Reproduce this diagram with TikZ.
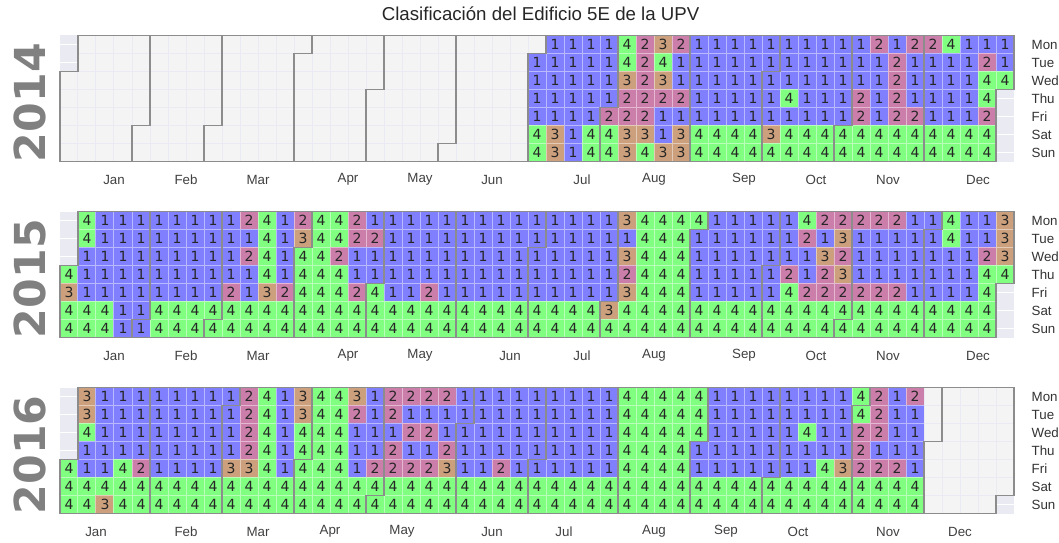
\documentclass[tikz,border=0pt]{standalone}
\usepackage{fontspec}
\setmainfont{Liberation Sans}
\newfontfamily\digitfont{DejaVu Sans}

\definecolor{axisbg}{RGB}{234,234,242}
\definecolor{emptyday}{RGB}{244,244,244}
\definecolor{lvlone}{RGB}{128,128,255}
\definecolor{lvltwo}{RGB}{204,126,170}
\definecolor{lvlthree}{RGB}{204,160,124}
\definecolor{lvlfour}{RGB}{128,255,128}
\definecolor{bordergray}{RGB}{140,140,140}
\definecolor{yeargray}{RGB}{128,128,128}

% una fila (dia de la semana) de un año: - fuera del año, 0 sin dato
\newcount\weekno
\newcommand\dayrow[2]{\weekno=0 \def\rowno{#1}\nextday#2\relax}
\def\nextday#1{\ifx#1\relax\else\daycell#1\advance\weekno by 1 \expandafter\nextday\fi}
\def\daycell#1{\if#1-\else
  \filldraw[day#1] (\the\weekno,\rowno) rectangle ++(1,1);
  \if#10\else\node[daynum] at (\the\weekno+0.5,\rowno+0.5) {#1};\fi
  \fi}

\tikzset{
  day0/.style={fill=emptyday, draw=axisbg, line width=0.75pt},
  day1/.style={fill=lvlone, draw=lvlone!55!white, line width=0.75pt},
  day2/.style={fill=lvltwo, draw=lvltwo!55!white, line width=0.75pt},
  day3/.style={fill=lvlthree, draw=lvlthree!55!white, line width=0.75pt},
  day4/.style={fill=lvlfour, draw=lvlfour!55!white, line width=0.75pt},
  daynum/.style={font=\digitfont\fontsize{10.5}{10.5}\selectfont, text=black!85, inner sep=0pt},
  rowline/.style={white, line width=0.8pt},
  monthline/.style={bordergray, line width=0.8pt},
  monthlab/.style={font=\fontsize{10}{12}\selectfont, text=black!75},
  weeklab/.style={font=\fontsize{10}{12}\selectfont, text=black!80, anchor=west},
  yearlab/.style={font=\digitfont\bfseries\fontsize{32}{32}\selectfont, text=yeargray, rotate=90},
}

\begin{document}
\begin{tikzpicture}[x=13.5pt, y=-13.5pt]
  \useasboundingbox (-3.3333,-1.9722) rectangle (55.5,28.1389);

  \node[font=\fontsize{14}{16}\selectfont, text=black!85] (title) at (26.7,-1.19) {Clasificación del Edificio 5E de la UPV};

  % ---------------- 2014 ----------------
  \begin{scope}[shift={(0,0)}]
    \fill[axisbg] (0,0) rectangle (53,7);
    \foreach \r in {0,...,6} \draw[rowline] (0,\r+0.5) -- (53,\r+0.5);
    \dayrow{0}{-000000000 0000000000 0000000111 1423211111 1111121224 111}
    \dayrow{1}{-000000000 0000000000 0000001111 1424111111 1111112111 121}
    \dayrow{2}{0000000000 0000000000 0000001111 1323111111 1111112111 144}
    \dayrow{3}{0000000000 0000000000 0000001111 1222211111 4111212111 14-}
    \dayrow{4}{0000000000 0000000000 0000001111 2221111111 1111212211 12-}
    \dayrow{5}{0000000000 0000000000 0000004314 4331344443 4444444444 44-}
    \dayrow{6}{0000000000 0000000000 0000004314 4343344444 4444444444 44-}
    \foreach \c/\r in {4/5,8/5,13/1,17/3,21/6,26/1,30/4,35/0,39/2,43/5,48/0}
      \draw[monthline] (\c+1,0) -- (\c+1,\r) -- (\c,\r) -- (\c,7);
    \draw[monthline] (0,7) -- (0,2) -- (1,2) -- (1,0) -- (53,0) -- (53,3) -- (52,3) -- (52,7) -- cycle;
    \foreach \m/\x in {Jan/3,Feb/7,Mar/11,Apr/16,May/20,Jun/24,Jul/29,Aug/33,Sep/38,Oct/42,Nov/46,Dec/51}
      \node[monthlab] (m2014\m) at (\x,8) {\m};
    \foreach \d [count=\r from 0] in {Mon,Tue,Wed,Thu,Fri,Sat,Sun}
      \node[weeklab] (d2014\d) at (53.72,\r+0.5) {\d};
    \node[yearlab] (y2014) at (-1.67,3.73) {2014};
  \end{scope}

  % ---------------- 2015 ----------------
  \begin{scope}[shift={(0,9.78)}]
    \fill[axisbg] (0,0) rectangle (53,7);
    \foreach \r in {0,...,6} \draw[rowline] (0,\r+0.5) -- (53,\r+0.5);
    \dayrow{0}{-411111111 2412442111 1111111111 1344441111 1422222114 113}
    \dayrow{1}{-411111111 1413442211 1111111111 1144411111 1213111114 113}
    \dayrow{2}{-111111111 2414421111 1111111111 1344411111 1132111111 123}
    \dayrow{3}{4111111111 1414441111 1111111111 1244411111 2123111111 144}
    \dayrow{4}{3111111112 1324442411 2111111111 1344411111 4222222111 14-}
    \dayrow{5}{4441144444 4444444444 4444444444 3444444444 4444444444 44-}
    \dayrow{6}{4441144444 4444444444 4444444444 4444444444 4444444444 44-}
    \foreach \c/\r in {4/6,8/6,13/2,17/4,22/0,26/2,30/5,35/1,39/3,43/6,48/1}
      \draw[monthline] (\c+1,0) -- (\c+1,\r) -- (\c,\r) -- (\c,7);
    \draw[monthline] (0,7) -- (0,3) -- (1,3) -- (1,0) -- (53,0) -- (53,4) -- (52,4) -- (52,7) -- cycle;
    \foreach \m/\x in {Jan/3,Feb/7,Mar/11,Apr/16,May/20,Jun/25,Jul/29,Aug/33,Sep/38,Oct/42,Nov/46,Dec/51}
      \node[monthlab] (m2015\m) at (\x,8) {\m};
    \foreach \d [count=\r from 0] in {Mon,Tue,Wed,Thu,Fri,Sat,Sun}
      \node[weeklab] (d2015\d) at (53.72,\r+0.5) {\d};
    \node[yearlab] (y2015) at (-1.67,3.73) {2015};
  \end{scope}

  % ---------------- 2016 ----------------
  \begin{scope}[shift={(0,19.56)}]
    \fill[axisbg] (0,0) rectangle (53,7);
    \foreach \r in {0,...,6} \draw[rowline] (0,\r+0.5) -- (53,\r+0.5);
    \dayrow{0}{-311111111 2413443122 2211111111 1444441111 1111421200 000}
    \dayrow{1}{-311111111 2413442121 1111111111 1444441111 1111421100 000}
    \dayrow{2}{-411111111 2414441112 2111111111 1444441111 1411221100 000}
    \dayrow{3}{-111111111 2414441121 1211111111 1444411111 1111211100 000}
    \dayrow{4}{4114211113 3414441222 2311211111 1444411111 1143222100 000}
    \dayrow{5}{4444444444 4444444444 4444444444 4444444444 4444444400 000}
    \dayrow{6}{4434444444 4444444444 4444444444 4444444444 4444444400 00-}
    \foreach \c/\r in {5/0,9/1,13/4,17/6,22/2,26/4,31/0,35/3,39/5,44/1,48/3}
      \draw[monthline] (\c+1,0) -- (\c+1,\r) -- (\c,\r) -- (\c,7);
    \draw[monthline] (0,7) -- (0,4) -- (1,4) -- (1,0) -- (53,0) -- (53,6) -- (52,6) -- (52,7) -- cycle;
    \foreach \m/\x in {Jan/2,Feb/7,Mar/11,Apr/15,May/19,Jun/24,Jul/28,Aug/33,Sep/37,Oct/41,Nov/46,Dec/50}
      \node[monthlab] (m2016\m) at (\x,8) {\m};
    \foreach \d [count=\r from 0] in {Mon,Tue,Wed,Thu,Fri,Sat,Sun}
      \node[weeklab] (d2016\d) at (53.72,\r+0.5) {\d};
    \node[yearlab] (y2016) at (-1.67,3.73) {2016};
  \end{scope}
\end{tikzpicture}
\end{document}
